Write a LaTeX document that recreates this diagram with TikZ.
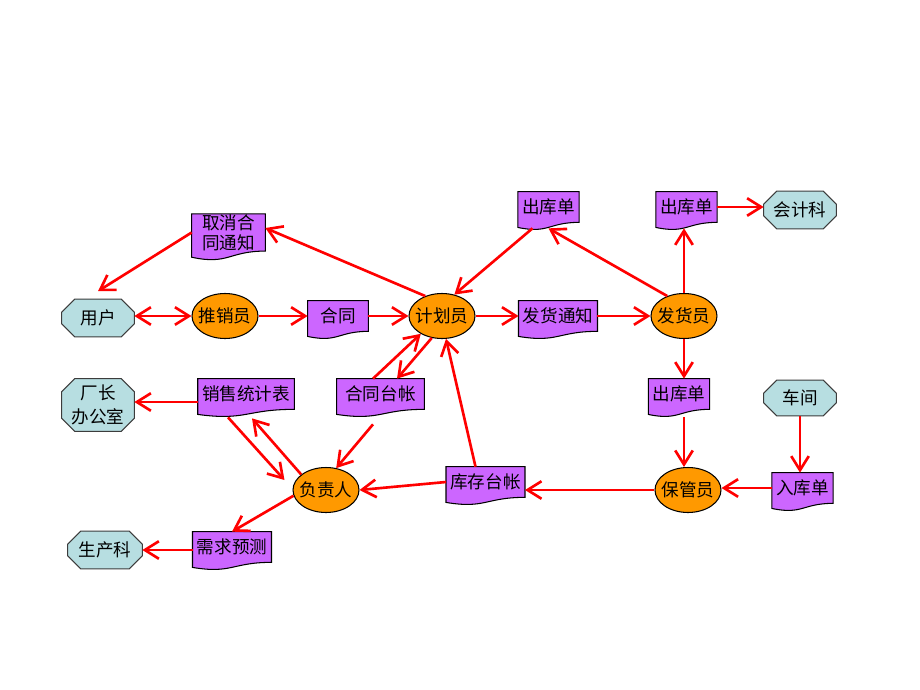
\documentclass[tikz,border=0pt]{standalone}
\usepackage{fontspec}
\newfontfamily\cjk{Noto Sans CJK SC}
\usetikzlibrary{arrows.meta}
\usetikzlibrary{calc}
\usetikzlibrary{shapes.geometric}
\usetikzlibrary{backgrounds}

\begin{document}
\begin{tikzpicture}[x=0.02cm,y=-0.02cm,
	font=\cjk\fontsize{10}{11.5}\selectfont,
	>={Straight Barb[length=8pt,width=10pt]},
	arr/.style={draw=red,line width=1.5pt,->},
	person/.style={ellipse,draw=black,line width=0.6pt,fill=personorange,minimum width=1.32cm,minimum height=0.9cm,inner xsep=-0.08cm,inner ysep=0pt},
	outside/.style={minimum width=1.44cm,minimum height=0.74cm,inner sep=0pt,align=center},
	paper/.style={inner xsep=0.08cm,inner ysep=0pt,minimum width=1.2cm,minimum height=0.6cm,align=center}]
	\definecolor{personorange}{RGB}{255,153,0}
	\definecolor{outsideblue}{RGB}{183,222,225}
	\definecolor{paperpurple}{RGB}{204,102,255}
	\definecolor{outline}{RGB}{60,60,60}
	\useasboundingbox (0,0) rectangle (920,690);

	\node[outside] (yh) at (98,318) {用户};
	\node[outside,minimum height=1.04cm] (cz) at (98,405) {厂长\\[2pt]办公室};
	\node[outside,minimum width=1.48cm] (scz) at (105,550) {生产科};
	\node[outside] (kjk) at (800,210) {会计科};
	\node[outside,minimum height=0.7cm] (cj) at (800,398) {车间};

	\node[person] (txy) at (225,316) {推销员};
	\node[person] (jhy) at (442,316) {计划员};
	\node[person] (fhy) at (684,316) {发货员};
	\node[person] (fzr) at (326,490) {负责人};
	\node[person] (bgy) at (688,490) {保管员};

	\node[paper,minimum width=1.46cm] (qxtz) at (228.5,232.5) {取消合\\同通知};
	\node[paper] (ht) at (338,316) {合同};
	\node[paper] (ckd1) at (548.5,207) {出库单};
	\node[paper] (fhtz) at (558,316) {发货通知};
	\node[paper] (ckd2) at (686.5,207) {出库单};
	\node[paper] (xstj) at (246,394) {销售统计表};
	\node[paper,minimum width=1.74cm] (httz) at (380.5,394) {合同台帐};
	\node[paper] (ckd3) at (679,394) {出库单};
	\node[paper] (kctz) at (485.5,482) {库存台帐};
	\node[paper] (rkd) at (802.5,488) {入库单};
	\node[paper] (xqyc) at (232,547) {需求预测};

	\begin{scope}[on background layer]
		\foreach \o in {yh,cz,scz,kjk,cj}
			\draw[draw=outline,line width=0.6pt,fill=outsideblue] ($(\o.north west)+(13,0)$) -- ($(\o.north east)+(-13,0)$) -- ($(\o.north east)+(0,13)$) -- ($(\o.south east)+(0,-13)$)
				-- ($(\o.south east)+(-13,0)$) -- ($(\o.south west)+(13,0)$) -- ($(\o.south west)+(0,-13)$) -- ($(\o.north west)+(0,13)$) -- cycle;
		\foreach \p in {qxtz,ht,ckd1,fhtz,ckd2,xstj,httz,ckd3,kctz,rkd,xqyc}
			\draw[line width=0.6pt,fill=paperpurple] (\p.north west) -- (\p.north east) -- (\p.south east)
				.. controls (\p.south) and ($(\p.south)!-0.38!(\p.north)$) .. ($(\p.south west)!-0.165!(\p.north west)$) -- cycle;
	\end{scope}

	\draw[arr] (qxtz.west) -- ([yshift=0.16cm]yh.north);
	\draw[arr] (jhy.130) -- ([yshift=0.09cm]qxtz.east);
	\draw[arr,<->] (yh.east |- txy.west) -- (txy.west);
	\draw[arr] (txy.east) -- (ht.west);
	\draw[arr] (ht.east) -- (jhy.west);
	\draw[arr] ([xshift=-0.32cm,yshift=-0.12cm]ckd1.south) -- (jhy.60);
	\draw[arr] (fhy.130) -- ([yshift=-0.12cm]ckd1.south);
	\draw[arr] (jhy.east) -- (fhtz.west);
	\draw[arr] (fhtz.east) -- (fhy.west);
	\draw[arr] (fhy.north) -- ([yshift=-0.12cm]fhy.north |- ckd2.south);
	\draw[arr] (ckd2.east) -- (ckd2.east -| kjk.west);
	\draw[arr] (fhy.south) -- (fhy.south |- ckd3.north);
	\draw[arr] ([yshift=-0.16cm]fhy.south |- ckd3.south) -- (fhy.south |- bgy.north);
	\draw[arr] (cj.south) -- (cj.south |- rkd.north);
	\draw[arr] (rkd.west) -- (rkd.west -| bgy.east);
	\draw[arr] (bgy.west) -- (bgy.west -| kctz.east);
	\draw[arr] (kctz.west) -- (fzr.east);
	\draw[arr] ([xshift=-0.2cm]kctz.north) -- (jhy.-80);
	\draw[arr] ([xshift=-0.15cm]httz.north) -- (jhy.220);
	\draw[arr] (jhy.245) -- ([xshift=0.33cm]httz.north);
	\draw[arr] ([xshift=-0.15cm,yshift=-0.3cm]httz.south) -- (fzr.65);
	\draw[arr] ([yshift=-0.16cm]xstj.west) -- ([yshift=-0.16cm]xstj.west -| cz.east);
	\draw[arr] ([xshift=-0.36cm,yshift=-0.16cm]xstj.south) -- ([xshift=-0.16cm,yshift=0.2cm]fzr.west);
	\draw[arr] (fzr.148) -- ([xshift=0.12cm,yshift=-0.18cm]xstj.south);
	\draw[arr] (fzr.190) -- (xqyc.north);
	\draw[arr] (xqyc.west |- scz) -- (scz.east);
\end{tikzpicture}
\end{document}
